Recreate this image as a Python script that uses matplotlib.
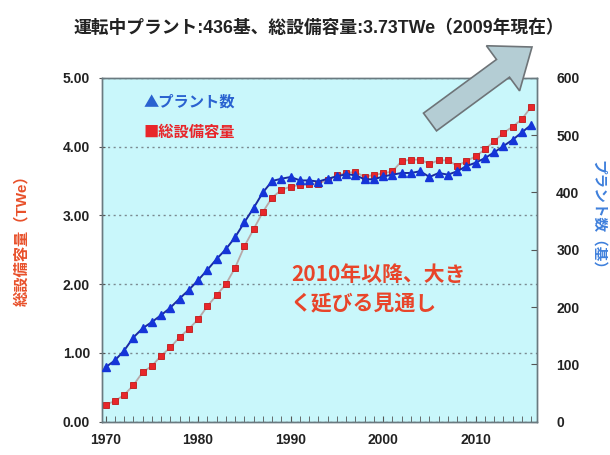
import matplotlib
matplotlib.use("Agg")
import matplotlib.pyplot as plt
from matplotlib.patches import FancyArrow
from matplotlib.transforms import IdentityTransform
from matplotlib.ticker import MultipleLocator

plt.rcParams['font.family'] = ['Noto Sans CJK JP', 'DejaVu Sans']

years = list(range(1970, 2017))
capacity_twe = [0.25, 0.30, 0.39, 0.53, 0.72, 0.81, 0.96, 1.08, 1.23, 1.35,
                1.49, 1.68, 1.84, 2.00, 2.24, 2.55, 2.80, 3.05, 3.26, 3.37,
                3.42, 3.44, 3.45, 3.46, 3.52, 3.58, 3.62, 3.63, 3.56, 3.59,
                3.61, 3.64, 3.79, 3.81, 3.81, 3.75, 3.80, 3.80, 3.72, 3.79,
                3.86, 3.96, 4.08, 4.20, 4.29, 4.40, 4.58]
plants = [95, 107, 124, 147, 163, 174, 186, 199, 215, 230,
          247, 265, 284, 301, 322, 348, 373, 400, 420, 424,
          427, 421, 421, 419, 424, 428, 432, 430, 423, 423,
          428, 431, 434, 434, 437, 427, 434, 431, 437, 446,
          452, 460, 470, 481, 492, 505, 518]

title = "運転中プラント:436基、総設備容量:3.73TWe（2009年現在）"
left_label = "総設備容量（TWe）"
right_label = "プラント数（基）"
legend_plants = "▲プラント数"
legend_cap = "■総設備容量"
note = "2010年以降、大き\nく延びる見通し"
left_ticks = [0, 1, 2, 3, 4, 5]
right_ticks = [0, 100, 200, 300, 400, 500, 600]
x_ticks = [1970, 1980, 1990, 2000, 2010]

latin = ['Liberation Sans', 'Noto Sans CJK JP']

fig = plt.figure(figsize=(6.1, 4.55), dpi=100)
fig.patch.set_facecolor('white')
ax = fig.add_axes([0.167, 0.073, 0.713, 0.756])
ax2 = ax.twinx()
ax.set_facecolor('#c9f7fb')
ax2.patch.set_visible(False)
ax.set_zorder(0)
ax2.set_zorder(1)

ax.set_xlim(1969.6, 2016.6)
ax.set_ylim(0, 5)
ax2.set_ylim(0, 600)

ax.grid(axis='y', linestyle=(0, (1.5, 2.5)), color='#7a8a90', linewidth=1.0)
ax.set_axisbelow(True)

ax.plot(years, capacity_twe, color='#b8a8a8', linewidth=1.3, marker='s',
        markersize=4.5, markerfacecolor='#e8262a', markeredgecolor='#c01818',
        markeredgewidth=0.6, zorder=3)
ax2.plot(years, plants, color='#1a2aa0', linewidth=1.4, marker='^',
         markersize=6, markerfacecolor='#1535d8', markeredgecolor='#1535d8',
         zorder=4)

ax.set_yticks(left_ticks)
ax.set_yticklabels([f"{v:.2f}" for v in left_ticks], fontweight='bold',
                   fontsize=10, color='#222222', family=latin)
ax2.set_yticks(right_ticks)
ax2.set_yticklabels([str(v) for v in right_ticks], fontweight='bold',
                    fontsize=10, color='#222222', family=latin)
ax.set_xticks(x_ticks)
ax.set_xticklabels([str(v) for v in x_ticks], fontweight='bold',
                   fontsize=10, color='#222222', family=latin)
ax.xaxis.set_minor_locator(MultipleLocator(1))
ax.tick_params(axis='x', which='both', direction='in', length=4,
               color='#555555', pad=8)
ax.tick_params(axis='y', direction='inout', length=5, color='#555555', pad=6)
ax2.tick_params(axis='y', direction='in', length=4, color='#555555', pad=14)

for a in (ax, ax2):
    for s in a.spines.values():
        s.set_color('#6a7a80')
        s.set_linewidth(1.0)

fig.text(0.522, 0.938, title, ha='center', va='center', fontsize=12.8,
         fontweight='bold', color='#222222', family=latin)
fig.text(0.036, 0.48, left_label, rotation=90, ha='center', va='center',
         fontsize=11, fontweight='bold', color='#e8502a', family=latin)
fig.text(0.982, 0.52, right_label, rotation=-90, ha='center', va='center',
         fontsize=10.5, fontweight='bold', color='#3f80dc')

fig.text(0.236, 0.776, legend_plants, ha='left', va='center', fontsize=11,
         fontweight='bold', color='#2a62d0')
fig.text(0.236, 0.710, legend_cap, ha='left', va='center', fontsize=11,
         fontweight='bold', color='#e8262a')

fig.text(0.477, 0.31, note, ha='left', va='bottom', fontsize=15,
         fontweight='bold', color='#e8452a', linespacing=1.45)

arrow = FancyArrow(430, 333, 102, 75, width=22, head_width=56,
                   head_length=36, length_includes_head=True,
                   transform=IdentityTransform(), facecolor='#b4cdd4',
                   edgecolor='#6e7478', linewidth=1.2, zorder=10)
fig.patches.append(arrow)
arrow.set_figure(fig)

fig.savefig('out.png', dpi=100)
